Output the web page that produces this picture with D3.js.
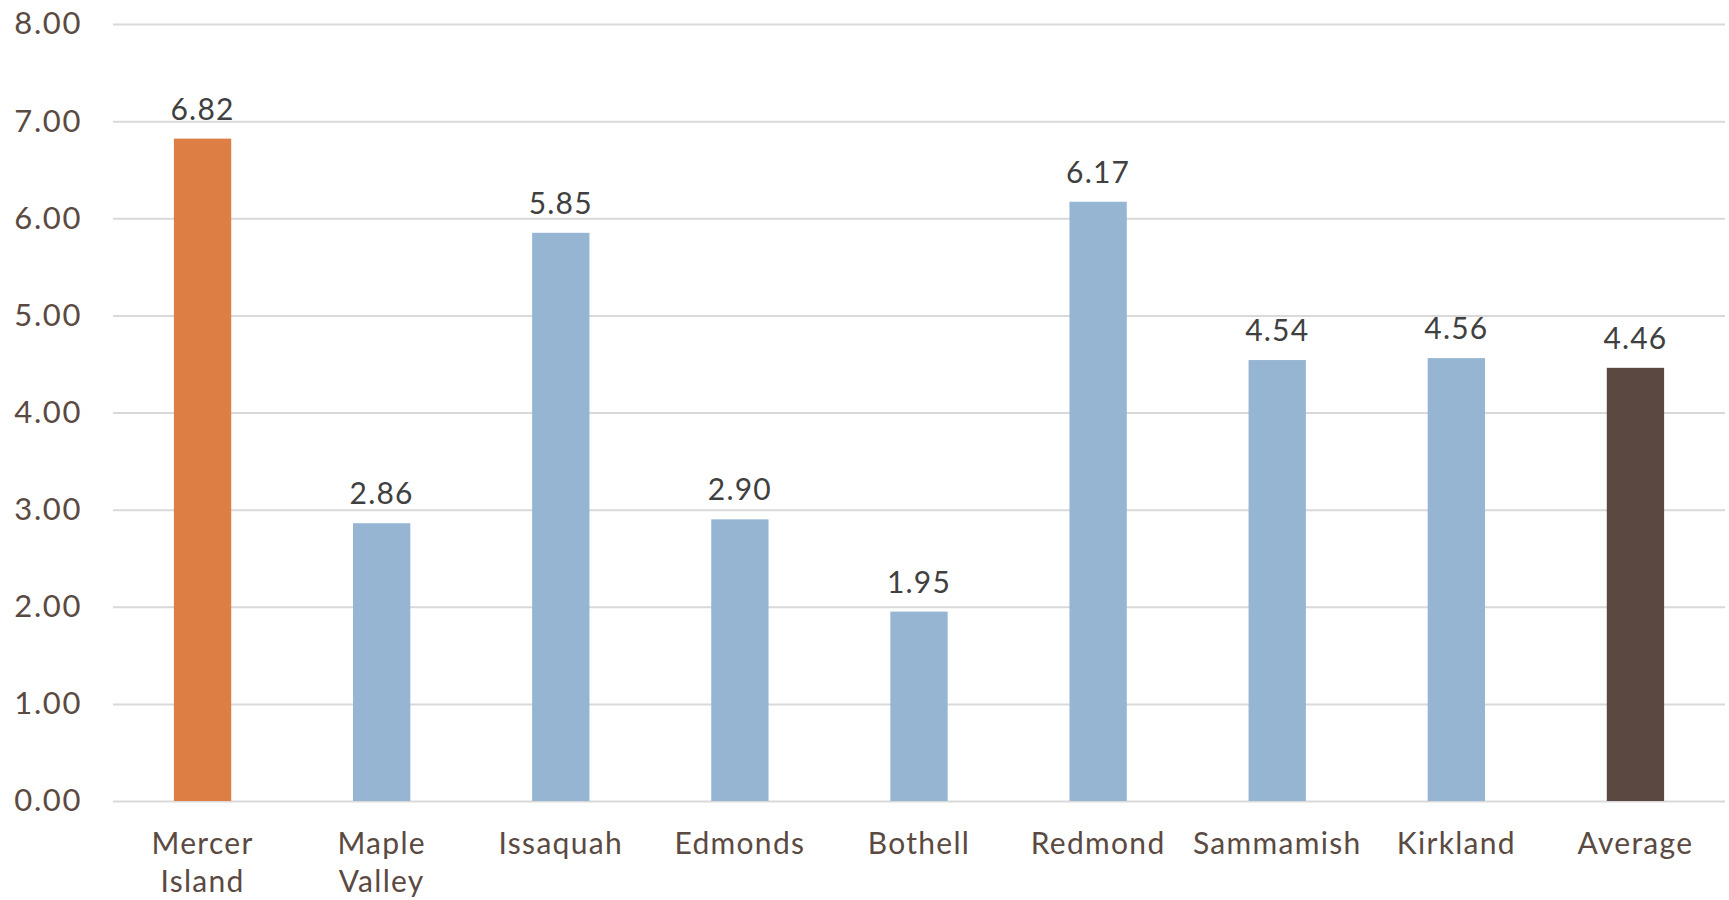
<!DOCTYPE html>
<html><head><meta charset="utf-8">
<script src="https://cdn.jsdelivr.net/npm/d3@7"></script>
<style>body{margin:0;background:#fff;} text{font-family:"Lato","Open Sans",sans-serif;}</style>
</head><body><svg id="c" width="1729" height="900"></svg>
<script>
const categories = ["Mercer Island","Maple Valley","Issaquah","Edmonds","Bothell","Redmond","Sammamish","Kirkland","Average"];
const values = [6.82,2.86,5.85,2.90,1.95,6.17,4.54,4.56,4.46];
const barColors = ["#DD7F45","#95B5D3","#95B5D3","#95B5D3","#95B5D3","#95B5D3","#95B5D3","#95B5D3","#5B4841"];
const yTicks = [0,1,2,3,4,5,6,7,8];

const svg = d3.select("#c");
const m = {left:113, right:4, top:24, bottom:99};
const W = 1729, H = 900;
const x = d3.scaleBand().domain(categories).range([m.left, W-m.right]).paddingInner(0.68).paddingOuter(0.34);
const y = d3.scaleLinear().domain([0,8]).range([H-m.bottom, m.top]);

const yAxis = svg.append("g").attr("transform",`translate(${m.left},0)`)
  .call(d3.axisLeft(y).tickValues(yTicks).tickFormat(d3.format(".2f")).tickSize(-(W-m.left-m.right)).tickPadding(31));
yAxis.select(".domain").remove();
yAxis.selectAll("line").attr("stroke","#D9D9D9").attr("stroke-width",2);
yAxis.selectAll("text").attr("fill","#5A4A42").attr("font-size",31).attr("letter-spacing",1.6);

svg.selectAll("rect.bar").data(values).enter().append("rect")
  .attr("x",(d,i)=>x(categories[i])).attr("width",x.bandwidth())
  .attr("y",d=>y(d)).attr("height",d=>y(0)-y(d))
  .attr("fill",(d,i)=>barColors[i]);

svg.selectAll("text.val").data(values).enter().append("text")
  .attr("x",(d,i)=>x(categories[i])+x.bandwidth()/2).attr("y",d=>y(d)-19)
  .attr("text-anchor","middle").attr("fill","#404040").attr("font-size",30).attr("letter-spacing",1.2)
  .text(d=>d.toFixed(2));

const xg = svg.append("g");
categories.forEach((c,i)=>{
  const cx = x(c)+x.bandwidth()/2;
  const t = xg.append("text").attr("x",cx).attr("y",854).attr("text-anchor","middle")
    .attr("fill","#5A4A42").attr("font-size",30).attr("letter-spacing",1.3);
  const words = c.split(" ");
  const lines = (words.length>1 && c.length>9) ? words : [c];
  lines.forEach((w,j)=>t.append("tspan").attr("x",cx).attr("dy", j===0?0:38).text(w));
});
</script></body></html>
